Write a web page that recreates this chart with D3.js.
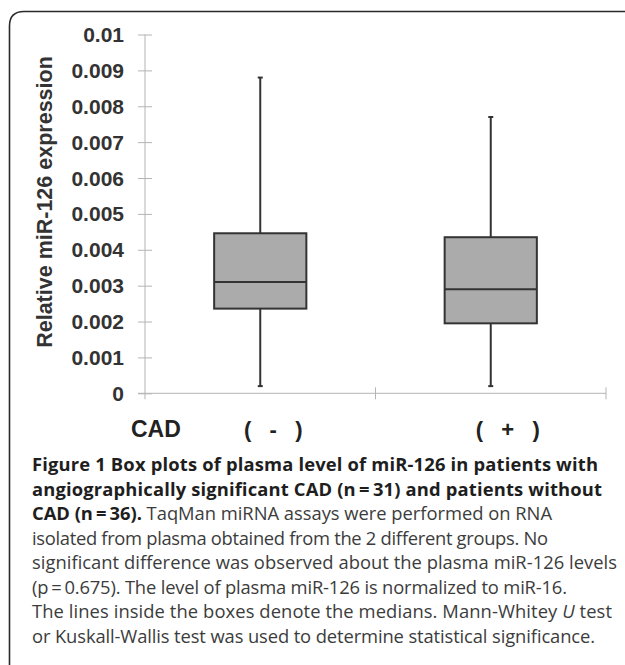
<!DOCTYPE html>
<html>
<head>
<meta charset="utf-8">
<script src="https://cdn.jsdelivr.net/npm/d3@7"></script>
<style>
  html, body { margin: 0; padding: 0; background: #fff; }
  svg { display: block; }
</style>
</head>
<body>
<svg id="chart" width="625" height="665"></svg>
<script>
// ---- data ----
const categories = ["( - )", "( + )"];
const whiskerMin = [0.0002, 0.0002];
const quartile1  = [0.00236, 0.00195];
const medians    = [0.0031, 0.0029];
const quartile3  = [0.00446, 0.00435];
const whiskerMax = [0.0088, 0.0077];
const yTicks = [0, 0.001, 0.002, 0.003, 0.004, 0.005, 0.006, 0.007, 0.008, 0.009, 0.01];
const yTickLabels = ["0", "0.001", "0.002", "0.003", "0.004", "0.005", "0.006", "0.007", "0.008", "0.009", "0.01"];
const yTitle = "Relative miR-126 expression";
const xTitle = "CAD";
const captionLines = [
  [["b", "Figure 1 Box plots of plasma level of miR-126 in patients with"]],
  [["b", "angiographically significant CAD (n\u2009=\u200931) and patients without"]],
  [["b", "CAD (n\u2009=\u200936)."], ["n", " TaqMan miRNA assays were performed on RNA"]],
  [["n", "isolated from plasma obtained from the 2 different groups. No"]],
  [["n", "significant difference was observed about the plasma miR-126 levels"]],
  [["n", "(p\u2009=\u20090.675). The level of plasma miR-126 is normalized to miR-16."]],
  [["n", "The lines inside the boxes denote the medians. Mann-Whitey "], ["i", "U"], ["n", " test"]],
  [["n", "or Kuskall-Wallis test was used to determine statistical significance."]]
];
const captionLineEnds = [598, 602, 552, 548, 617, 567, 612, 595];

const boxes = categories.map((c, i) => ({
  cat: c, min: whiskerMin[i], q1: quartile1[i], med: medians[i], q3: quartile3[i], max: whiskerMax[i]
}));

// ---- layout ----
const svg = d3.select("#chart");
const axisLeft = 145, axisRight = 606, y0 = 393.3, yTop = 34.5;
const x = d3.scaleBand().domain(categories).range([axisLeft, axisRight]).padding(0);
const y = d3.scaleLinear().domain([0, 0.01]).range([y0, yTop]);
const axisColor = "#b4b4b4";
const ink = "#333";

// frame (rounded top-left corner, continues off the right and bottom)
svg.append("path")
  .attr("d", `M9.5,665 L9.5,26 Q9.5,11.5 24,11.5 L625,11.5`)
  .attr("fill", "none").attr("stroke", "#2a2a2a").attr("stroke-width", 1.6);

// y axis
const yAxis = d3.axisLeft(y).tickValues(yTicks).tickSize(7).tickFormat(() => "");
const gy = svg.append("g").attr("transform", `translate(${axisLeft},0)`).call(yAxis);
gy.select(".domain").remove();
gy.selectAll(".tick line").attr("x1", -7).attr("x2", 7).attr("stroke", axisColor);
svg.append("line").attr("x1", axisLeft).attr("x2", axisLeft).attr("y1", yTop).attr("y2", y0 + 6)
  .attr("stroke", axisColor).attr("stroke-width", 1);
svg.append("g").selectAll("text").data(yTicks).join("text")
  .attr("x", 124).attr("y", d => y(d)).attr("dy", "0.36em")
  .attr("text-anchor", "end")
  .attr("font-family", "'Liberation Sans', Arial, sans-serif")
  .attr("font-weight", "bold").attr("font-size", 21).attr("fill", ink)
  .text((d, i) => yTickLabels[i]);

// x axis
const gx = svg.append("g").attr("transform", `translate(0,${y0})`)
  .call(d3.axisBottom(x).tickValues([]).tickSize(0));
gx.select(".domain").remove();
svg.append("line").attr("x1", axisLeft - 7).attr("x2", axisRight).attr("y1", y0).attr("y2", y0)
  .attr("stroke", axisColor).attr("stroke-width", 1);
svg.append("g").selectAll("line").data(categories).join("line")
  .attr("x1", d => x(d) + x.bandwidth()).attr("x2", d => x(d) + x.bandwidth())
  .attr("y1", y0 - 6).attr("y2", y0 + 6)
  .attr("stroke", axisColor).attr("stroke-width", 1);

// y title
svg.append("text")
  .attr("transform", `translate(52,202) rotate(-90)`)
  .attr("text-anchor", "middle")
  .attr("font-family", "'Liberation Sans', Arial, sans-serif")
  .attr("font-weight", "bold").attr("font-size", 21.5).attr("fill", ink)
  .text(yTitle);

// boxes
const boxW = x.bandwidth() * 0.4;
const g = svg.append("g").selectAll("g").data(boxes).join("g")
  .attr("transform", d => `translate(${x(d.cat) + x.bandwidth() / 2},0)`);
g.append("line").attr("x1", 0).attr("x2", 0)
  .attr("y1", d => y(d.max)).attr("y2", d => y(d.min))
  .attr("stroke", ink).attr("stroke-width", 2);
g.append("line").attr("x1", -2.5).attr("x2", 2.5)
  .attr("y1", d => y(d.max)).attr("y2", d => y(d.max))
  .attr("stroke", ink).attr("stroke-width", 2);
g.append("line").attr("x1", -2.5).attr("x2", 2.5)
  .attr("y1", d => y(d.min)).attr("y2", d => y(d.min))
  .attr("stroke", ink).attr("stroke-width", 2);
g.append("rect")
  .attr("x", -boxW / 2).attr("width", boxW)
  .attr("y", d => y(d.q3)).attr("height", d => y(d.q1) - y(d.q3))
  .attr("fill", "#ababab").attr("stroke", ink).attr("stroke-width", 2);
g.append("line").attr("x1", -boxW / 2).attr("x2", boxW / 2)
  .attr("y1", d => y(d.med)).attr("y2", d => y(d.med))
  .attr("stroke", ink).attr("stroke-width", 2);

// category labels and x title
const catOffset = [13, 17];
svg.append("g").selectAll("text").data(categories).join("text")
  .attr("x", (d, i) => x(d) + x.bandwidth() / 2 + catOffset[i])
  .attr("y", 437)
  .attr("text-anchor", "middle")
  .attr("font-family", "'Liberation Sans', Arial, sans-serif")
  .attr("font-weight", "bold").attr("font-size", 22).attr("fill", "#222")
  .style("white-space", "pre")
  .text(d => d.replace("( ", "(   ").replace(" )", "   )"));
svg.append("text")
  .attr("x", 131).attr("y", 437)
  .attr("font-family", "'Liberation Sans', Arial, sans-serif")
  .attr("font-weight", "bold").attr("font-size", 23).attr("fill", "#222")
  .text(xTitle);

// caption
const capX = 32, capY0 = 471, capDy = 24.5;
const capFont = "'Open Sans', 'Noto Sans', sans-serif";
const lines = svg.append("g").selectAll("text").data(captionLines).join("text")
  .attr("x", capX).attr("y", (d, i) => capY0 + i * capDy)
  .attr("font-family", capFont).attr("font-size", 19);
lines.each(function(parts) {
  const t = d3.select(this);
  parts.forEach(([kind, str]) => {
    t.append("tspan")
      .attr("font-weight", kind === "b" ? "bold" : "normal")
      .attr("font-style", kind === "i" ? "italic" : "normal")
      .attr("fill", kind === "b" ? "#1e1e1e" : "#3c3c3c")
      .style("white-space", "pre")
      .text(str);
  });
});
// global font fit, then per-line spacing correction
let ratios = [];
lines.each(function(d, i) { ratios.push((captionLineEnds[i] - capX) / this.getComputedTextLength()); });
const fs = 19 * d3.median(ratios);
lines.attr("font-size", fs);
lines.each(function(d, i) {
  d3.select(this).attr("textLength", captionLineEnds[i] - capX).attr("lengthAdjust", "spacing");
});
</script>
</body>
</html>
